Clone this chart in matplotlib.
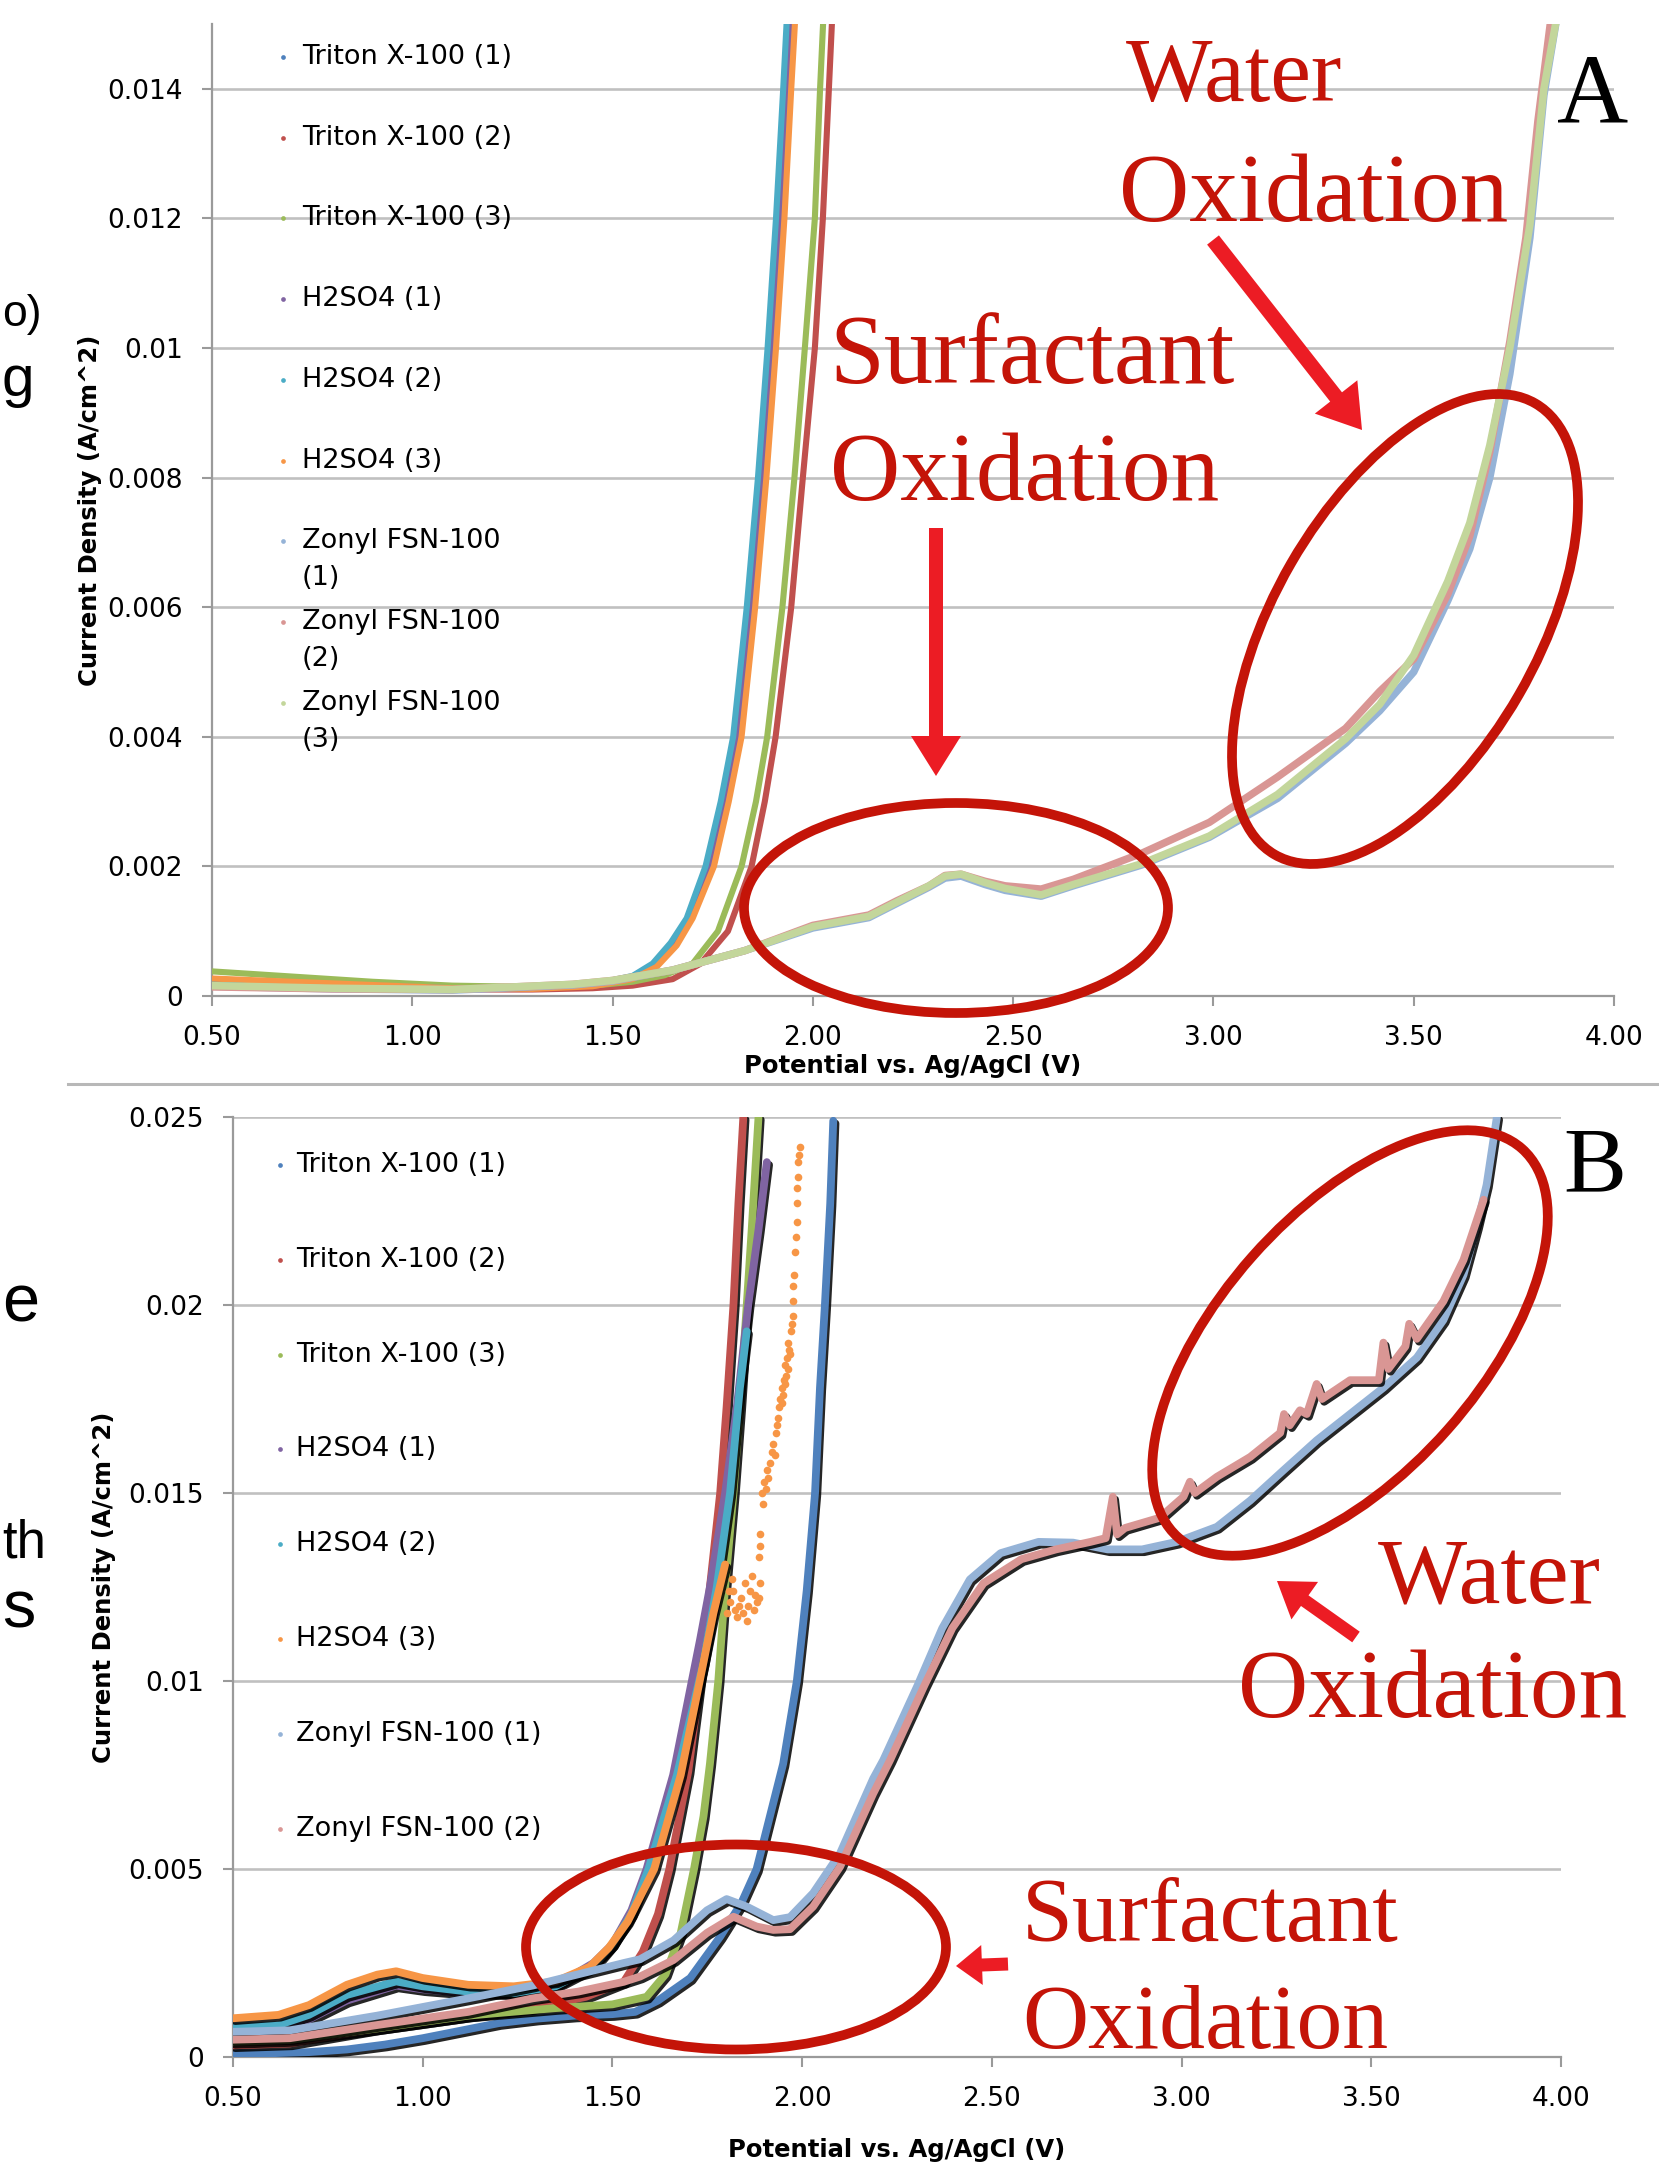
import matplotlib
matplotlib.use("Agg")
import matplotlib.pyplot as plt
from matplotlib.patches import Ellipse, FancyArrow
import matplotlib.patheffects as pe

# ====================== DATA ======================
x_ticks = [0.5, 1.0, 1.5, 2.0, 2.5, 3.0, 3.5, 4.0]
x_ticklabels = ["0.50", "1.00", "1.50", "2.00", "2.50", "3.00", "3.50", "4.00"]
a_y_ticks = [0, 0.002, 0.004, 0.006, 0.008, 0.010, 0.012, 0.014]
a_y_ticklabels = ["0", "0.002", "0.004", "0.006", "0.008", "0.01", "0.012", "0.014"]
b_y_ticks = [0, 0.005, 0.010, 0.015, 0.020, 0.025]
b_y_ticklabels = ["0", "0.005", "0.01", "0.015", "0.02", "0.025"]

a_labels = ["Triton X-100 (1)", "Triton X-100 (2)", "Triton X-100 (3)",
            "H2SO4 (1)", "H2SO4 (2)", "H2SO4 (3)",
            "Zonyl FSN-100\n(1)", "Zonyl FSN-100\n(2)", "Zonyl FSN-100\n(3)"]
b_labels = ["Triton X-100 (1)", "Triton X-100 (2)", "Triton X-100 (3)",
            "H2SO4 (1)", "H2SO4 (2)", "H2SO4 (3)",
            "Zonyl FSN-100 (1)", "Zonyl FSN-100 (2)"]
series_colors = ["#4F81BD", "#C0504D", "#9BBB59", "#8064A2", "#4BACC6",
                 "#F79646", "#95B3D7", "#D99694", "#C3D69B"]

# ---- Panel A ----
a_triton1_x = [0.50, 0.70, 0.90, 1.10, 1.30, 1.45, 1.55, 1.60, 1.65, 1.69, 1.737, 1.775, 1.806, 1.840, 1.868, 1.892, 1.913, 1.930, 1.940]
a_triton1_y = [0.00021, 0.00018, 0.00015, 0.00012, 0.00013, 0.00018, 0.00030, 0.00048, 0.00080, 0.0012, 0.0020, 0.0030, 0.0040, 0.0060, 0.0080, 0.0100, 0.0120, 0.0140, 0.0152]
a_triton2_x = [0.50, 0.70, 0.90, 1.10, 1.30, 1.45, 1.55, 1.65, 1.72, 1.788, 1.847, 1.880, 1.907, 1.946, 1.975, 2.005, 2.025, 2.040, 2.049]
a_triton2_y = [0.00015, 0.00013, 0.00011, 0.00010, 0.00010, 0.00012, 0.00016, 0.00026, 0.0005, 0.0010, 0.0020, 0.0030, 0.0040, 0.0060, 0.0080, 0.0100, 0.0120, 0.0140, 0.0152]
a_triton3_x = [0.50, 0.70, 0.90, 1.10, 1.30, 1.45, 1.55, 1.63, 1.70, 1.763, 1.822, 1.858, 1.886, 1.924, 1.954, 1.980, 2.005, 2.018, 2.027]
a_triton3_y = [0.00038, 0.00030, 0.00022, 0.00016, 0.00014, 0.00016, 0.00022, 0.00032, 0.0005, 0.0010, 0.0020, 0.0030, 0.0040, 0.0060, 0.0080, 0.0100, 0.0120, 0.0140, 0.0152]
a_h2so4_1_x = [0.50, 0.70, 0.90, 1.10, 1.30, 1.45, 1.55, 1.60, 1.655, 1.695, 1.742, 1.780, 1.811, 1.845, 1.873, 1.897, 1.918, 1.935, 1.945]
a_h2so4_1_y = [0.00020, 0.00017, 0.00014, 0.00011, 0.00012, 0.00017, 0.00029, 0.00047, 0.00080, 0.0012, 0.0020, 0.0030, 0.0040, 0.0060, 0.0080, 0.0100, 0.0120, 0.0140, 0.0152]
a_h2so4_2_x = [0.50, 0.70, 0.90, 1.10, 1.30, 1.45, 1.55, 1.60, 1.645, 1.685, 1.732, 1.770, 1.801, 1.835, 1.863, 1.887, 1.908, 1.926, 1.936]
a_h2so4_2_y = [0.00024, 0.00020, 0.00016, 0.00012, 0.00013, 0.00018, 0.00031, 0.00050, 0.00082, 0.0012, 0.0020, 0.0030, 0.0040, 0.0060, 0.0080, 0.0100, 0.0120, 0.0140, 0.0152]
a_h2so4_3_x = [0.50, 0.70, 0.90, 1.10, 1.30, 1.45, 1.55, 1.61, 1.66, 1.70, 1.753, 1.790, 1.822, 1.856, 1.884, 1.908, 1.929, 1.946, 1.957]
a_h2so4_3_y = [0.00027, 0.00022, 0.00017, 0.00012, 0.00011, 0.00015, 0.00026, 0.00045, 0.00078, 0.0012, 0.0020, 0.0030, 0.0040, 0.0060, 0.0080, 0.0100, 0.0120, 0.0140, 0.0152]
a_zonyl1_x = [0.50, 0.80, 1.10, 1.40, 1.50, 1.65, 1.83, 2.00, 2.14, 2.21, 2.29, 2.33, 2.37, 2.43, 2.48, 2.57, 2.65, 2.82, 2.99, 3.16, 3.33, 3.415, 3.50, 3.585, 3.64, 3.69, 3.74, 3.79, 3.825, 3.86]
a_zonyl1_y = [0.00015, 0.00011, 0.00009, 0.00017, 0.00023, 0.0004, 0.0007, 0.00105, 0.00121, 0.00143, 0.00168, 0.00182, 0.00185, 0.00172, 0.00163, 0.00154, 0.00170, 0.00202, 0.00245, 0.00305, 0.0039, 0.0044, 0.0050, 0.0061, 0.0069, 0.0080, 0.0096, 0.0117, 0.0139, 0.0152]
a_zonyl2_x = [0.50, 0.80, 1.10, 1.40, 1.50, 1.65, 1.83, 2.00, 2.14, 2.21, 2.29, 2.33, 2.37, 2.43, 2.48, 2.57, 2.65, 2.82, 2.99, 3.16, 3.33, 3.415, 3.50, 3.585, 3.64, 3.69, 3.74, 3.78, 3.81, 3.845]
a_zonyl2_y = [0.00014, 0.00011, 0.00010, 0.00018, 0.00024, 0.0004, 0.0007, 0.00109, 0.00125, 0.00147, 0.0017, 0.00186, 0.00188, 0.00177, 0.00170, 0.00165, 0.0018, 0.0022, 0.00268, 0.00338, 0.00413, 0.0047, 0.0052, 0.0062, 0.0071, 0.0084, 0.0101, 0.0117, 0.0135, 0.0152]
a_zonyl3_x = [0.50, 0.80, 1.10, 1.40, 1.50, 1.65, 1.83, 2.00, 2.14, 2.21, 2.29, 2.33, 2.37, 2.43, 2.48, 2.57, 2.65, 2.82, 2.99, 3.16, 3.33, 3.415, 3.50, 3.585, 3.64, 3.69, 3.74, 3.79, 3.825, 3.86]
a_zonyl3_y = [0.00016, 0.00012, 0.00010, 0.00018, 0.00024, 0.0004, 0.0007, 0.00107, 0.00123, 0.00145, 0.0017, 0.00185, 0.00188, 0.00175, 0.00166, 0.00156, 0.00172, 0.00204, 0.00247, 0.00311, 0.00397, 0.0045, 0.00526, 0.0064, 0.0073, 0.0085, 0.0100, 0.0119, 0.0140, 0.0152]

# ---- Panel B ----
b_triton1_x = [0.50, 0.60, 0.70, 0.80, 0.90, 1.00, 1.10, 1.20, 1.30, 1.40, 1.50, 1.56, 1.62, 1.705, 1.784, 1.84, 1.88, 1.915, 1.95, 1.986, 2.012, 2.034, 2.047, 2.06, 2.074, 2.082]
b_triton1_y = [0.0001, 0.0001, 0.00013, 0.0002, 0.00033, 0.0005, 0.0007, 0.0009, 0.00102, 0.0011, 0.00114, 0.0012, 0.0015, 0.0021, 0.0032, 0.0041, 0.0050, 0.0064, 0.0078, 0.0100, 0.0124, 0.0150, 0.0178, 0.0200, 0.0227, 0.0249]
b_triton2_x = [0.50, 0.65, 0.88, 1.12, 1.29, 1.43, 1.53, 1.58, 1.62, 1.65, 1.70, 1.737, 1.757, 1.784, 1.801, 1.819, 1.832, 1.845]
b_triton2_y = [0.00031, 0.00036, 0.00076, 0.0011, 0.0013, 0.0016, 0.0020, 0.0028, 0.0038, 0.0050, 0.0076, 0.0105, 0.0125, 0.0150, 0.0173, 0.0200, 0.0227, 0.0250]
b_triton3_x = [0.50, 0.65, 0.88, 1.12, 1.35, 1.50, 1.59, 1.64, 1.68, 1.715, 1.74, 1.757, 1.779, 1.797, 1.819, 1.836, 1.854, 1.867, 1.885]
b_triton3_y = [0.0004, 0.00045, 0.00076, 0.0011, 0.0013, 0.0014, 0.0016, 0.0022, 0.0033, 0.0050, 0.0064, 0.0078, 0.0100, 0.0125, 0.0150, 0.0173, 0.0200, 0.0220, 0.0250]
b_h2so4_1_x = [0.50, 0.62, 0.70, 0.80, 0.93, 1.00, 1.12, 1.24, 1.35, 1.45, 1.50, 1.55, 1.59, 1.66, 1.731, 1.757, 1.797, 1.828, 1.858, 1.885, 1.907]
b_h2so4_1_y = [0.0007, 0.00075, 0.0010, 0.0015, 0.0019, 0.0018, 0.0017, 0.0017, 0.0019, 0.0025, 0.0030, 0.0039, 0.0050, 0.0075, 0.0111, 0.0125, 0.0150, 0.0173, 0.0200, 0.0220, 0.0238]
b_h2so4_2_x = [0.50, 0.62, 0.70, 0.80, 0.93, 1.00, 1.12, 1.24, 1.35, 1.45, 1.50, 1.55, 1.595, 1.67, 1.74, 1.775, 1.81, 1.836, 1.854]
b_h2so4_2_y = [0.0008, 0.00085, 0.00112, 0.00165, 0.00201, 0.00188, 0.00174, 0.0017, 0.00188, 0.0024, 0.0030, 0.0038, 0.0050, 0.0075, 0.0105, 0.0125, 0.0150, 0.0178, 0.0193]
b_h2so4_3_x = [0.50, 0.62, 0.70, 0.80, 0.88, 0.93, 1.00, 1.12, 1.24, 1.35, 1.44, 1.49, 1.54, 1.61, 1.68, 1.74, 1.766, 1.797]
b_h2so4_3_y = [0.00103, 0.00112, 0.00138, 0.00192, 0.00219, 0.00228, 0.0021, 0.00192, 0.00188, 0.00201, 0.0024, 0.0029, 0.0036, 0.0050, 0.0075, 0.0105, 0.0118, 0.0131]
b_h2so4_3_dots_x = [1.801, 1.806, 1.810, 1.815, 1.819, 1.823, 1.828, 1.833, 1.838, 1.843, 1.850, 1.854, 1.858, 1.863, 1.867, 1.872, 1.876, 1.880, 1.885, 1.889, 1.885, 1.889, 1.889, 1.893, 1.897, 1.900, 1.904, 1.907, 1.911, 1.915, 1.920, 1.924, 1.928, 1.930, 1.934, 1.937, 1.940, 1.942, 1.946, 1.946, 1.950, 1.952, 1.955, 1.955, 1.958, 1.960, 1.962, 1.964, 1.966, 1.968, 1.970, 1.973, 1.975, 1.977, 1.977, 1.979, 1.981, 1.983, 1.986, 1.986, 1.986, 1.988, 1.990, 1.993, 1.995]
b_h2so4_3_dots_y = [0.0118, 0.0124, 0.0121, 0.0127, 0.0124, 0.0119, 0.0117, 0.0120, 0.0122, 0.0118, 0.0126, 0.0116, 0.0120, 0.0124, 0.0128, 0.0119, 0.0123, 0.0121, 0.0122, 0.0126, 0.0133, 0.0136, 0.0139, 0.0150, 0.0147, 0.0153, 0.0151, 0.0156, 0.0154, 0.0158, 0.0161, 0.0163, 0.0160, 0.0166, 0.0168, 0.0170, 0.0173, 0.0175, 0.0178, 0.0174, 0.0176, 0.0180, 0.0184, 0.0179, 0.0181, 0.0186, 0.0183, 0.0190, 0.0188, 0.0187, 0.0193, 0.0195, 0.0197, 0.0201, 0.0205, 0.0208, 0.0214, 0.0218, 0.0222, 0.0227, 0.0231, 0.0234, 0.0238, 0.0240, 0.0242]
b_zonyl1_x = [0.50, 0.65, 0.88, 1.12, 1.29, 1.41, 1.53, 1.573, 1.661, 1.749, 1.801, 1.854, 1.924, 1.968, 2.029, 2.10, 2.187, 2.214, 2.305, 2.369, 2.442, 2.523, 2.623, 2.714, 2.805, 2.896, 2.987, 3.093, 3.181, 3.268, 3.356, 3.444, 3.532, 3.62, 3.69, 3.743, 3.778, 3.804, 3.831]
b_zonyl1_y = [0.00067, 0.00071, 0.0011, 0.00156, 0.0019, 0.0022, 0.0025, 0.0026, 0.0031, 0.0039, 0.0042, 0.0040, 0.00364, 0.00372, 0.00436, 0.00542, 0.0074, 0.0079, 0.0099, 0.0114, 0.0127, 0.0134, 0.0137, 0.01368, 0.0135, 0.0135, 0.0137, 0.0141, 0.0148, 0.0156, 0.0164, 0.0171, 0.0178, 0.0186, 0.0196, 0.0208, 0.0221, 0.0232, 0.0250]
b_zonyl2_x = [0.50, 0.65, 0.88, 1.12, 1.29, 1.41, 1.53, 1.573, 1.661, 1.749, 1.819, 1.88, 1.924, 1.968, 2.029, 2.10, 2.187, 2.232, 2.323, 2.396, 2.478, 2.578, 2.669, 2.76, 2.80, 2.819, 2.83, 2.851, 2.942, 3.005, 3.022, 3.035, 3.093, 3.181, 3.26, 3.27, 3.285, 3.312, 3.33, 3.356, 3.37, 3.444, 3.52, 3.532, 3.545, 3.59, 3.60, 3.62, 3.69, 3.743, 3.796]
b_zonyl2_y = [0.00046, 0.0005, 0.00085, 0.0012, 0.00156, 0.00174, 0.0020, 0.00214, 0.00258, 0.0033, 0.00373, 0.00347, 0.00338, 0.0034, 0.0040, 0.00506, 0.0070, 0.0079, 0.0099, 0.01141, 0.0126, 0.01324, 0.0135, 0.0137, 0.0138, 0.0149, 0.0139, 0.01407, 0.01434, 0.0149, 0.0153, 0.0150, 0.01543, 0.01596, 0.0166, 0.0171, 0.0168, 0.0172, 0.0171, 0.0179, 0.0175, 0.0180, 0.0180, 0.0190, 0.0183, 0.0189, 0.0195, 0.0191, 0.0201, 0.0212, 0.0228]

# annotation texts
ann_water = ["Water", "Oxidation"]
ann_surf = ["Surfactant", "Oxidation"]
edge_fragments = ["o)", "g", "e", "th", "s"]

# ====================== STYLE / LAYOUT ======================
W, H = 1659, 2172
RED_TXT = "#C41408"
RED_ARROW = "#EC1C24"
GRID = "#C0C0C0"
SPINE = "#9A9A9A"
TICK_FS = 19
LAB_FS = 17.5
LEG_FS = 19.5

fig = plt.figure(figsize=(W / 100, H / 100), dpi=100)
fig.patch.set_facecolor("white")

# axes rectangles in pixels (left, top, right, bottom)
A_BOX = (212, 24, 1614, 996)
B_BOX = (233, 1117, 1561, 2057)


def make_axes(box):
    l, t, r, b = box
    return fig.add_axes([l / W, 1 - b / H, (r - l) / W, (b - t) / H])


def style_axes(ax, box, yticks, yticklabels, ylim, ylabel_x_px, xlabel_y_px):
    l, t, r, b = box
    ax.set_xlim(0.5, 4.0)
    ax.set_ylim(*ylim)
    ax.set_xticks(x_ticks)
    ax.set_xticklabels(x_ticklabels)
    ax.set_yticks(yticks)
    ax.set_yticklabels(yticklabels)
    for s in ("top", "right"):
        ax.spines[s].set_visible(False)
    for s in ("left", "bottom"):
        ax.spines[s].set_color(SPINE)
        ax.spines[s].set_linewidth(1.6)
    ax.grid(axis="y", color=GRID, lw=1.9)
    ax.set_axisbelow(True)
    ax.tick_params(axis="both", direction="out", length=7, width=1.5,
                   color=SPINE, labelsize=TICK_FS, pad=14)
    for lab in ax.get_xticklabels() + ax.get_yticklabels():
        lab.set_fontfamily("DejaVu Sans")
    ax.set_ylabel("Current Density (A/cm^2)", fontsize=LAB_FS, fontweight="bold")
    ax.yaxis.set_label_coords((ylabel_x_px - l) / (r - l), 0.5)
    ax.yaxis.label.set_va("center")
    ax.set_xlabel("Potential vs. Ag/AgCl (V)", fontsize=LAB_FS, fontweight="bold")
    ax.xaxis.set_label_coords(0.5, (b - xlabel_y_px) / (b - t))
    ax.xaxis.label.set_va("center")


def draw_legend(ax, box, labels, colors, mx, tx, y0, pitch, line2):
    l, t, r, b = box
    fx = lambda X: (X - l) / (r - l)
    fy = lambda Y: (b - Y) / (b - t)
    for i, (lab, c) in enumerate(zip(labels, colors)):
        Y = y0 + i * pitch
        ax.plot([fx(mx)], [fy(Y)], "o", ms=3.4, color=c, mec="none",
                transform=ax.transAxes, clip_on=False, zorder=6)
        for k, line in enumerate(lab.split("\n")):
            ax.text(fx(tx), fy(Y + k * line2), line, transform=ax.transAxes,
                    ha="left", va="center", fontsize=LEG_FS, color="black",
                    family="DejaVu Sans", zorder=6)


# ---------------- Panel A ----------------
axA = make_axes(A_BOX)
style_axes(axA, A_BOX, a_y_ticks, a_y_ticklabels, (0, 0.015), 90, 1066)
a_series = [(a_triton1_x, a_triton1_y), (a_triton2_x, a_triton2_y), (a_triton3_x, a_triton3_y),
            (a_h2so4_1_x, a_h2so4_1_y), (a_h2so4_2_x, a_h2so4_2_y), (a_h2so4_3_x, a_h2so4_3_y),
            (a_zonyl1_x, a_zonyl1_y), (a_zonyl2_x, a_zonyl2_y), (a_zonyl3_x, a_zonyl3_y)]
for i, ((xs, ys), c) in enumerate(zip(a_series, series_colors)):
    lw = 5.4 if i >= 6 else 4.4
    axA.plot(xs, ys, color=c, lw=lw, solid_capstyle="round", solid_joinstyle="round", zorder=3)
draw_legend(axA, A_BOX, a_labels, series_colors, 283, 302, 57, 80.7, 37)

# ---------------- Panel B ----------------
axB = make_axes(B_BOX)
style_axes(axB, B_BOX, b_y_ticks, b_y_ticklabels, (0, 0.025), 104, 2150)
b_series = [(b_triton1_x, b_triton1_y), (b_triton2_x, b_triton2_y), (b_triton3_x, b_triton3_y),
            (b_h2so4_1_x, b_h2so4_1_y), (b_h2so4_2_x, b_h2so4_2_y), (b_h2so4_3_x, b_h2so4_3_y),
            (b_zonyl1_x, b_zonyl1_y), (b_zonyl2_x, b_zonyl2_y)]
shadow = [pe.SimpleLineShadow(offset=(1.6, -2.0), shadow_color="black", alpha=0.85),
          pe.Normal()]
for (xs, ys), c in zip(b_series, series_colors[:8]):
    axB.plot(xs, ys, color=c, lw=5.6, solid_capstyle="round", solid_joinstyle="round",
             path_effects=shadow, zorder=3)
axB.plot(b_h2so4_3_dots_x, b_h2so4_3_dots_y, "o", ls="none", ms=5.5,
         color=series_colors[5], mec="none", zorder=3)
draw_legend(axB, B_BOX, b_labels, series_colors[:8], 280, 296, 1165, 94.8, 37)

# ---------------- Overlay (annotations) ----------------
ov = fig.add_axes([0, 0, 1, 1], zorder=10)
ov.set_xlim(0, W)
ov.set_ylim(H, 0)
ov.axis("off")
ov.patch.set_alpha(0)

# separator between panels
ov.plot([68, W], [1084, 1084], color="#B8B8B8", lw=2.2)

# slide text fragments at the left edge (kept fully inside the picture)
for txt, Y, fs in zip(edge_fragments, [326, 396, 1322, 1558, 1628], [32, 42, 48, 38, 48]):
    ov.text(2, Y, txt, ha="left", va="baseline", fontsize=fs,
            family="Liberation Sans", color="black")

serif = "Liberation Serif"
# Panel A texts
ov.text(1126, 101, ann_water[0], fontsize=66, family=serif, color=RED_TXT, va="baseline")
ov.text(1119, 221, ann_water[1], fontsize=70, family=serif, color=RED_TXT, va="baseline")
ov.text(829, 383, ann_surf[0], fontsize=71, family=serif, color=RED_TXT, va="baseline")
ov.text(830, 500, ann_surf[1], fontsize=70, family=serif, color=RED_TXT, va="baseline")
ov.text(1557, 123, "A", fontsize=71, family=serif, color="black", va="baseline")
# Panel B texts
ov.text(1378, 1602, ann_water[0], fontsize=68, family=serif, color=RED_TXT, va="baseline")
ov.text(1238, 1717, ann_water[1], fontsize=70, family=serif, color=RED_TXT, va="baseline")
ov.text(1022, 1941, ann_surf[0], fontsize=66, family=serif, color=RED_TXT, va="baseline")
ov.text(1022, 2048, ann_surf[1], fontsize=66, family=serif, color=RED_TXT, va="baseline")
ov.text(1563, 1191, "B", fontsize=68, family=serif, color="black", va="baseline")

# ellipses
for (cx, cy, w, h, ang) in [(956, 908, 424, 210, 0), (1405, 629, 521, 263, -60),
                            (736, 1947, 420, 205, 0), (1350, 1343, 519, 261, -48.5)]:
    ov.add_patch(Ellipse((cx, cy), w, h, angle=ang, fill=False,
                         edgecolor=RED_TXT, lw=7.0))

# arrows (tail x, tail y, tip x, tip y, shaft, head width, head length)
for (x0, y0, x1, y1, sw, hw, hl) in [(936, 528, 936, 776, 14, 50, 40),
                                      (1213, 240, 1362, 430, 15, 54, 42),
                                      (1356, 1637, 1277, 1581, 13, 46, 34),
                                      (1008, 1964, 956, 1966, 13, 40, 26)]:
    ov.add_patch(FancyArrow(x0, y0, x1 - x0, y1 - y0, width=sw, head_width=hw,
                            head_length=hl, length_includes_head=True,
                            color=RED_ARROW, lw=0))

fig.savefig("out.png", dpi=100, facecolor="white")
